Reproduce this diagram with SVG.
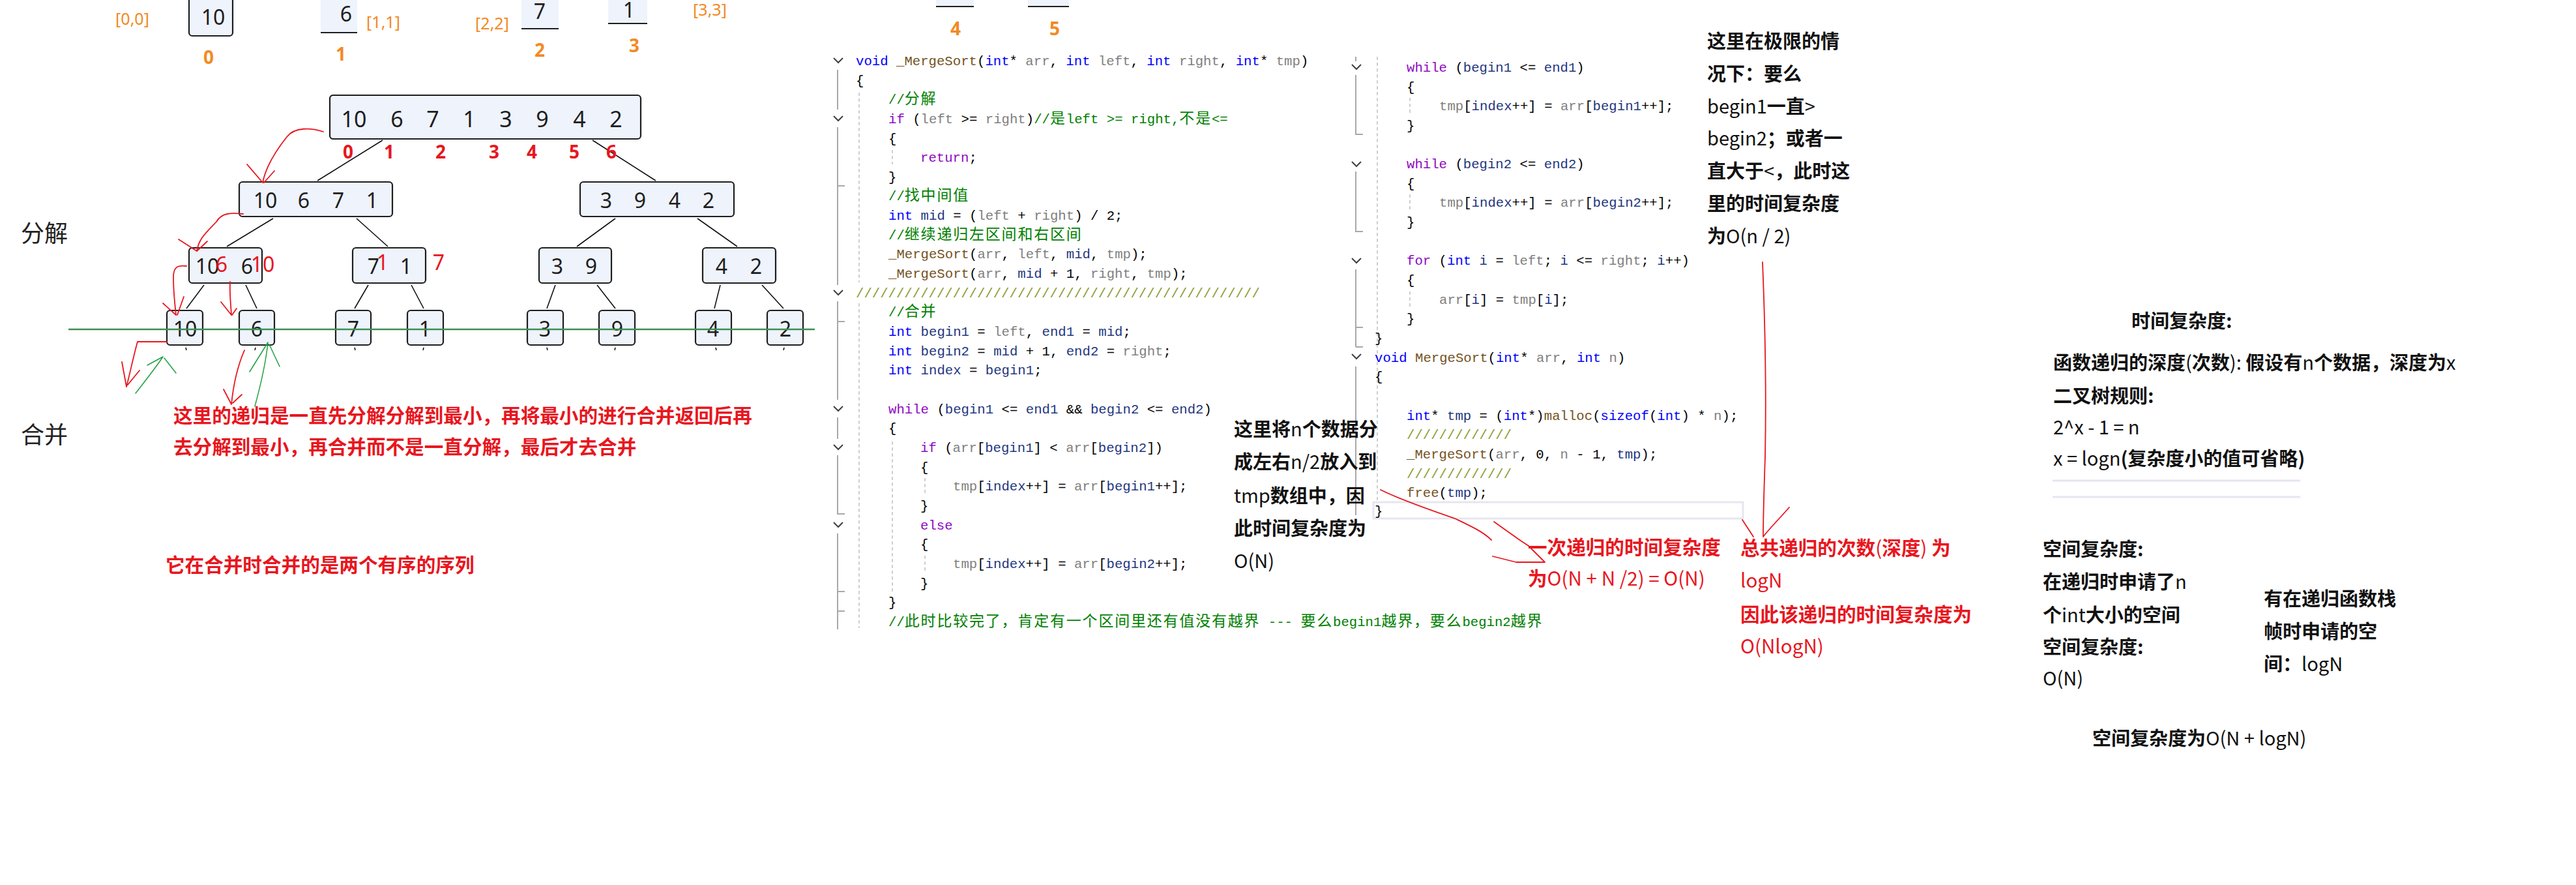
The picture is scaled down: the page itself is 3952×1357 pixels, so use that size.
<svg xmlns="http://www.w3.org/2000/svg" width="3952" height="1357" viewBox="0 0 3952 1357">
<style>
.box{fill:#eef3fc;stroke:#1e1e1e;stroke-width:2.2}
.fillonly{fill:#eef3fc}
.bline{stroke:#1e1e1e;stroke-width:2.2}
.edge{stroke:#111;stroke-width:1.6;fill:none}
.num{font-family:"Noto Sans","DejaVu Sans",sans-serif;fill:#1e1e1e;text-anchor:middle}
.n34{font-size:34px}
.n32{font-size:32px}
.org{font-family:"Noto Sans","DejaVu Sans",sans-serif;fill:#f28a24;text-anchor:middle}
.ob{font-size:28px;font-weight:700}
.obr{font-size:25px}
.rnum{font-family:"Noto Sans","DejaVu Sans",sans-serif;fill:#e8161e;font-size:28px;font-weight:700;text-anchor:middle}
.rd{fill:#e8161e}
.cn{font-family:"Noto Sans CJK SC","Noto Sans",sans-serif;font-size:29px;font-weight:700;fill:#111}
.cnr{font-family:"Noto Sans CJK SC","Noto Sans",sans-serif;font-size:29.6px;font-weight:700;fill:#e8161e}
.lbl{font-family:"Noto Sans CJK SC",sans-serif;font-size:36px;fill:#222}
.lt{font-weight:400}
.code{font-family:"Liberation Mono","DejaVu Sans Mono",monospace;font-size:20.67px;fill:#000}
.z{font-family:"Noto Sans CJK SC",sans-serif;font-size:23px;letter-spacing:1.8px}
.k{fill:#0000ff}.c{fill:#8f08c4}.f{fill:#74531f}.p{fill:#808080}.v{fill:#1f377f}.g{fill:#008000}.s{fill:#8a9a30}
.hr{fill:none;stroke:#e8161e;stroke-width:1.8;stroke-linecap:round;stroke-linejoin:round}
.hg{fill:none;stroke:#20a040;stroke-width:1.5;stroke-linecap:round}
.gut{fill:none;stroke:#a8a8a8;stroke-width:2}
.dash{fill:none;stroke:#cfcfcf;stroke-width:2;stroke-dasharray:5 4}
.chev{fill:none;stroke:#404040;stroke-width:2}
.hl{fill:none;stroke:#e6e6f0;stroke-width:3}
</style>

<!-- top partial boxes -->
<g id="top-boxes">
<rect class="box" x="290" y="-12" width="67" height="67" rx="5"/>
<text class="num n32" x="327" y="38">10</text>
<rect class="fillonly" x="492" y="-5" width="56" height="55"/><line class="bline" x1="492" y1="50" x2="548" y2="50"/>
<text class="num n32" x="531" y="33">6</text>
<rect class="fillonly" x="800" y="-5" width="57" height="49"/><line class="bline" x1="800" y1="44" x2="857" y2="44"/>
<text class="num n32" x="828" y="29">7</text>
<rect class="fillonly" x="933" y="-5" width="60" height="41"/><line class="bline" x1="933" y1="36" x2="993" y2="36"/>
<text class="num n32" x="965" y="27">1</text>
<rect class="fillonly" x="1436" y="-5" width="58" height="15"/><line class="bline" x1="1436" y1="10" x2="1494" y2="10"/>
<rect class="fillonly" x="1577" y="-5" width="63" height="15"/><line class="bline" x1="1577" y1="10" x2="1640" y2="10"/>
</g>
<g id="top-labels">
<text class="org obr" x="203" y="38">[0,0]</text>
<text class="org obr" x="588" y="43">[1,1]</text>
<text class="org obr" x="755" y="45">[2,2]</text>
<text class="org obr" x="1089" y="24">[3,3]</text>
<text class="org ob" x="320" y="98">0</text>
<text class="org ob" x="523" y="93">1</text>
<text class="org ob" x="828" y="87">2</text>
<text class="org ob" x="973" y="80">3</text>
<text class="org ob" x="1466" y="54">4</text>
<text class="org ob" x="1618" y="54">5</text>
</g>

<!-- connectors -->
<g id="connectors">
<line class="edge" x1="587" y1="215" x2="487" y2="277"/>
<line class="edge" x1="909" y1="215" x2="1006" y2="277"/>
<line class="edge" x1="419" y1="335" x2="348" y2="378"/>
<line class="edge" x1="547" y1="335" x2="595" y2="378"/>
<line class="edge" x1="944" y1="335" x2="885" y2="378"/>
<line class="edge" x1="1070" y1="335" x2="1131" y2="378"/>
<line class="edge" x1="313" y1="437" x2="286" y2="473"/>
<line class="edge" x1="377" y1="437" x2="394" y2="473"/>
<line class="edge" x1="565" y1="437" x2="544" y2="473"/>
<line class="edge" x1="631" y1="437" x2="650" y2="473"/>
<line class="edge" x1="852" y1="437" x2="839" y2="473"/>
<line class="edge" x1="916" y1="437" x2="944" y2="473"/>
<line class="edge" x1="1105" y1="437" x2="1096" y2="473"/>
<line class="edge" x1="1169" y1="437" x2="1202" y2="473"/>
<line class="edge" x1="285" y1="533" x2="286" y2="537"/>
<line class="edge" x1="392" y1="533" x2="391" y2="537"/>
<line class="edge" x1="544" y1="533" x2="545" y2="537"/>
<line class="edge" x1="650" y1="533" x2="649" y2="537"/>
<line class="edge" x1="839" y1="533" x2="840" y2="537"/>
<line class="edge" x1="944" y1="533" x2="943" y2="537"/>
<line class="edge" x1="1098" y1="533" x2="1099" y2="537"/>
<line class="edge" x1="1203" y1="533" x2="1202" y2="537"/>
</g>

<g id="root">
<rect class="box" x="506" y="146" width="477" height="67" rx="5"/>
<text class="num n34" y="195"><tspan x="543">10</tspan><tspan x="609">6</tspan><tspan x="664">7</tspan><tspan x="720">1</tspan><tspan x="776">3</tspan><tspan x="832">9</tspan><tspan x="889">4</tspan><tspan x="945">2</tspan></text>
</g>
<g id="root-index">
<text class="rnum" y="243"><tspan x="534">0</tspan><tspan x="597">1</tspan><tspan x="676">2</tspan><tspan x="758">3</tspan><tspan x="816">4</tspan><tspan x="881">5</tspan><tspan x="938">6</tspan></text>
</g>
<g id="n-10-6-7-1">
<rect class="box" x="367" y="279" width="235" height="53" rx="5"/>
<text class="num n32" y="319"><tspan x="407">10</tspan><tspan x="466">6</tspan><tspan x="519">7</tspan><tspan x="571">1</tspan></text>
</g>
<g id="n-3-9-4-2">
<rect class="box" x="890" y="279" width="236" height="53" rx="5"/>
<text class="num n32" y="319"><tspan x="930">3</tspan><tspan x="982">9</tspan><tspan x="1035">4</tspan><tspan x="1087">2</tspan></text>
</g>
<g id="n-10-6">
<rect class="box" x="290" y="380" width="112" height="54" rx="5"/>
<text class="num n32" y="420"><tspan x="318">10</tspan><tspan x="379">6</tspan></text>
<text class="num n32 rd" y="417"><tspan x="340">6</tspan><tspan x="403">10</tspan></text>
</g>
<g id="n-7-1">
<rect class="box" x="541" y="380" width="112" height="54" rx="5"/>
<text class="num n32" y="420"><tspan x="573">7</tspan><tspan x="623">1</tspan></text>
<text class="num n32 rd" y="414"><tspan x="587">1</tspan><tspan x="673">7</tspan></text>
</g>
<g id="n-3-9">
<rect class="box" x="827" y="380" width="111" height="54" rx="5"/>
<text class="num n32" y="420"><tspan x="855">3</tspan><tspan x="907">9</tspan></text>
</g>
<g id="n-4-2">
<rect class="box" x="1078" y="380" width="112" height="54" rx="5"/>
<text class="num n32" y="420"><tspan x="1107">4</tspan><tspan x="1160">2</tspan></text>
</g>
<g id="leaf-10"><rect class="box" x="256" y="476" width="55" height="53" rx="5"/><text class="num n32" x="284" y="516">10</text></g>
<g id="leaf-6"><rect class="box" x="367" y="476" width="54" height="53" rx="5"/><text class="num n32" x="394" y="516">6</text></g>
<g id="leaf-7"><rect class="box" x="515" y="476" width="54" height="53" rx="5"/><text class="num n32" x="542" y="516">7</text></g>
<g id="leaf-1"><rect class="box" x="625" y="476" width="55" height="53" rx="5"/><text class="num n32" x="652" y="516">1</text></g>
<g id="leaf-3"><rect class="box" x="809" y="476" width="55" height="53" rx="5"/><text class="num n32" x="836" y="516">3</text></g>
<g id="leaf-9"><rect class="box" x="919" y="476" width="55" height="53" rx="5"/><text class="num n32" x="947" y="516">9</text></g>
<g id="leaf-4"><rect class="box" x="1067" y="476" width="55" height="53" rx="5"/><text class="num n32" x="1094" y="516">4</text></g>
<g id="leaf-2"><rect class="box" x="1177" y="476" width="55" height="53" rx="5"/><text class="num n32" x="1205" y="516">2</text></g>

<line x1="105" y1="505" x2="1250" y2="505" stroke="#3e8e55" stroke-width="2.5"/>

<g id="hand-strokes">
<path class="hr" d="M496,202 C478,196 452,194 440,210 C424,230 408,255 403,280 M379,252 L403,280 M421,262 L405,280"/>
<path class="hr" d="M373,328 C355,326 340,326 332,340 C318,355 305,365 302,385 M274,367 L302,385 M318,370 L302,385"/>
<path class="hr" d="M286,408 C272,406 266,410 266,425 C266,445 268,465 270,483 M250,465 L270,483 M282,455 L272,483"/>
<path class="hr" d="M353,432 C352,450 354,465 355,483 M339,463 L355,483 M363,473 L356,483"/>
<path class="hr" d="M256,524 L211,524 C205,545 200,570 194,593 M187,555 L194,593 M214,568 L196,590"/>
<path class="hr" d="M375,537 C365,560 358,590 355,620 M343,597 L355,620 M371,605 L357,618"/>
<path class="hg" d="M208,603 C222,585 238,565 250,547 M226,560 L250,547 M270,572 L252,549"/>
<path class="hg" d="M391,623 C400,590 408,555 411,525 M383,570 L411,525 M429,562 L413,528"/>
</g>

<text class="lbl" x="32" y="371">分解</text>
<text class="lbl" x="32" y="680">合并</text>
<text class="cnr" x="266" y="648">这里的递归是一直先分解分解到最小，再将最小的进行合并返回后再</text>
<text class="cnr" x="266" y="696">去分解到最小，再合并而不是一直分解，最后才去合并</text>
<text class="cnr" x="254" y="877">它在合并时合并的是两个有序的序列</text>

<!-- left code panel -->
<g id="code-left-gutter">
<polyline class="chev" points="1279,89 1286,96 1293,89"/>
<polyline class="chev" points="1279,178 1286,185 1293,178"/>
<polyline class="chev" points="1279,445 1286,452 1293,445"/>
<polyline class="chev" points="1279,623 1286,630 1293,623"/>
<polyline class="chev" points="1279,682 1286,689 1293,682"/>
<polyline class="chev" points="1279,801 1286,808 1293,801"/>
<path class="gut" d="M1285,107 V168 M1285,195 V437 M1285,285 H1296 M1285,462 V613 M1285,493 H1296 M1285,640 V673 M1285,698 V788 H1296 M1285,818 V965 M1285,907 H1296 M1285,937 H1296"/>
<path class="dash" d="M1318,142 V433 M1318,465 V963 M1369,230 V252 M1369,677 V907 M1419,733 V757 M1419,852 V877"/>
</g>
<g id="code-left" class="code" xml:space="preserve">
<text x="1313" y="100"><tspan class="k">void</tspan> <tspan class="f">_MergeSort</tspan>(<tspan class="k">int</tspan>* <tspan class="p">arr</tspan>, <tspan class="k">int</tspan> <tspan class="p">left</tspan>, <tspan class="k">int</tspan> <tspan class="p">right</tspan>, <tspan class="k">int</tspan>* <tspan class="p">tmp</tspan>)</text>
<text x="1313" y="130">{</text>
<text x="1363" y="159"><tspan class="g">//<tspan class="z">分解</tspan></tspan></text>
<text x="1363" y="189"><tspan class="c">if</tspan> (<tspan class="p">left</tspan> &gt;= <tspan class="p">right</tspan>)<tspan class="g">//<tspan class="z">是</tspan>left &gt;= right,<tspan class="z">不是</tspan>&lt;=</tspan></text>
<text x="1363" y="219">{</text>
<text x="1412" y="248"><tspan class="c">return</tspan>;</text>
<text x="1363" y="278">}</text>
<text x="1363" y="307"><tspan class="g">//<tspan class="z">找中间值</tspan></tspan></text>
<text x="1363" y="337"><tspan class="k">int</tspan> <tspan class="v">mid</tspan> = (<tspan class="p">left</tspan> + <tspan class="p">right</tspan>) / 2;</text>
<text x="1363" y="367"><tspan class="g">//<tspan class="z">继续递归左区间和右区间</tspan></tspan></text>
<text x="1363" y="396"><tspan class="f">_MergeSort</tspan>(<tspan class="p">arr</tspan>, <tspan class="p">left</tspan>, <tspan class="v">mid</tspan>, <tspan class="p">tmp</tspan>);</text>
<text x="1363" y="426"><tspan class="f">_MergeSort</tspan>(<tspan class="p">arr</tspan>, <tspan class="v">mid</tspan> + 1, <tspan class="p">right</tspan>, <tspan class="p">tmp</tspan>);</text>
<text x="1313" y="456" class="s">//////////////////////////////////////////////////</text>
<text x="1363" y="485"><tspan class="g">//<tspan class="z">合并</tspan></tspan></text>
<text x="1363" y="515"><tspan class="k">int</tspan> <tspan class="v">begin1</tspan> = <tspan class="p">left</tspan>, <tspan class="v">end1</tspan> = <tspan class="v">mid</tspan>;</text>
<text x="1363" y="545"><tspan class="k">int</tspan> <tspan class="v">begin2</tspan> = <tspan class="v">mid</tspan> + 1,  <tspan class="v">end2</tspan> = <tspan class="p">right</tspan>;</text>
<text x="1363" y="574"><tspan class="k">int</tspan> <tspan class="v">index</tspan> = <tspan class="v">begin1</tspan>;</text>
<text x="1363" y="634"><tspan class="c">while</tspan> (<tspan class="v">begin1</tspan> &lt;= <tspan class="v">end1</tspan> &amp;&amp; <tspan class="v">begin2</tspan> &lt;= <tspan class="v">end2</tspan>)</text>
<text x="1363" y="663">{</text>
<text x="1412" y="693"><tspan class="c">if</tspan> (<tspan class="p">arr</tspan>[<tspan class="v">begin1</tspan>] &lt; <tspan class="p">arr</tspan>[<tspan class="v">begin2</tspan>])</text>
<text x="1412" y="723">{</text>
<text x="1462" y="752"><tspan class="p">tmp</tspan>[<tspan class="v">index</tspan>++] = <tspan class="p">arr</tspan>[<tspan class="v">begin1</tspan>++];</text>
<text x="1412" y="782">}</text>
<text x="1412" y="812"><tspan class="c">else</tspan></text>
<text x="1412" y="841">{</text>
<text x="1462" y="871"><tspan class="p">tmp</tspan>[<tspan class="v">index</tspan>++] = <tspan class="p">arr</tspan>[<tspan class="v">begin2</tspan>++];</text>
<text x="1412" y="901">}</text>
<text x="1363" y="930">}</text>
<text x="1363" y="960"><tspan class="g">//<tspan class="z">此时比较完了，肯定有一个区间里还有值没有越界</tspan>  --- <tspan class="z">要么</tspan>begin1<tspan class="z">越界，要么</tspan>begin2<tspan class="z">越界</tspan></tspan></text>
</g>

<!-- right code panel -->
<g id="code-right-gutter">
<polyline class="chev" points="2074,99 2081,106 2088,99"/>
<polyline class="chev" points="2074,248 2081,255 2088,248"/>
<polyline class="chev" points="2074,396 2081,403 2088,396"/>
<polyline class="chev" points="2074,543 2081,550 2088,543"/>
<path class="gut" d="M2080,87 V94 M2080,115 V206 H2091 M2080,263 V355 H2091 M2080,413 V532 M2080,502 H2091 M2080,532 H2091 M2080,562 V790"/>
<path class="dash" d="M2113,87 V767 M2163,150 V175 M2163,298 V322 M2163,447 V470"/>
<rect class="hl" x="2107" y="770" width="567" height="25"/>
</g>
<g id="code-right" class="code" xml:space="preserve">
<text x="2158" y="110"><tspan class="c">while</tspan> (<tspan class="v">begin1</tspan> &lt;= <tspan class="v">end1</tspan>)</text>
<text x="2158" y="140">{</text>
<text x="2208" y="169"><tspan class="p">tmp</tspan>[<tspan class="v">index</tspan>++] = <tspan class="p">arr</tspan>[<tspan class="v">begin1</tspan>++];</text>
<text x="2158" y="199">}</text>
<text x="2158" y="258"><tspan class="c">while</tspan> (<tspan class="v">begin2</tspan> &lt;= <tspan class="v">end2</tspan>)</text>
<text x="2158" y="288">{</text>
<text x="2208" y="317"><tspan class="p">tmp</tspan>[<tspan class="v">index</tspan>++] = <tspan class="p">arr</tspan>[<tspan class="v">begin2</tspan>++];</text>
<text x="2158" y="347">}</text>
<text x="2158" y="406"><tspan class="c">for</tspan> (<tspan class="k">int</tspan> <tspan class="v">i</tspan> = <tspan class="p">left</tspan>; <tspan class="v">i</tspan> &lt;= <tspan class="p">right</tspan>; <tspan class="v">i</tspan>++)</text>
<text x="2158" y="436">{</text>
<text x="2208" y="466"><tspan class="p">arr</tspan>[<tspan class="v">i</tspan>] = <tspan class="p">tmp</tspan>[<tspan class="v">i</tspan>];</text>
<text x="2158" y="495">}</text>
<text x="2109" y="525">}</text>
<text x="2109" y="555"><tspan class="k">void</tspan> <tspan class="f">MergeSort</tspan>(<tspan class="k">int</tspan>* <tspan class="p">arr</tspan>, <tspan class="k">int</tspan> <tspan class="p">n</tspan>)</text>
<text x="2109" y="584">{</text>
<text x="2158" y="644"><tspan class="k">int</tspan>* <tspan class="v">tmp</tspan> = (<tspan class="k">int</tspan>*)<tspan class="f">malloc</tspan>(<tspan class="k">sizeof</tspan>(<tspan class="k">int</tspan>) * <tspan class="p">n</tspan>);</text>
<text x="2158" y="673" class="s">/////////////</text>
<text x="2158" y="703"><tspan class="f">_MergeSort</tspan>(<tspan class="p">arr</tspan>, 0, <tspan class="p">n</tspan> - 1, <tspan class="v">tmp</tspan>);</text>
<text x="2158" y="733" class="s">/////////////</text>
<text x="2158" y="762"><tspan class="f">free</tspan>(<tspan class="v">tmp</tspan>);</text>
<text x="2109" y="790">}</text>
</g>

<!-- annotations -->
<g id="note-split" class="cn">
<text x="1893" y="669">这里将<tspan class="lt">n</tspan>个数据分</text>
<text x="1893" y="719">成左右<tspan class="lt">n/2</tspan>放入到</text>
<text x="1893" y="771"><tspan class="lt">tmp</tspan>数组中，因</text>
<text x="1893" y="821">此时间复杂度为</text>
<text x="1893" y="871"><tspan class="lt">O(N)</tspan></text>
</g>
<g id="note-extreme" class="cn">
<text x="2619" y="74">这里在极限的情</text>
<text x="2619" y="124">况下：要么</text>
<text x="2619" y="174"><tspan class="lt">begin1</tspan>一直<tspan class="lt">&gt;</tspan></text>
<text x="2619" y="223"><tspan class="lt">begin2</tspan>；或者一</text>
<text x="2619" y="273">直大于<tspan class="lt">&lt;</tspan>，此时这</text>
<text x="2619" y="323">里的时间复杂度</text>
<text x="2619" y="373">为<tspan class="lt">O(n / 2)</tspan></text>
</g>
<g id="note-once" class="cnr">
<text x="2344" y="850">一次递归的时间复杂度</text>
<text x="2344" y="898">为<tspan class="lt">O(N + N /2) = O(N)</tspan></text>
</g>
<g id="note-total" class="cnr">
<text x="2670" y="851">总共递归的次数<tspan class="lt">(</tspan>深度<tspan class="lt">)</tspan> 为</text>
<text x="2670" y="901"><tspan class="lt">logN</tspan></text>
<text x="2670" y="953">因此该递归的时间复杂度为</text>
<text x="2670" y="1002"><tspan class="lt">O(NlogN)</tspan></text>
</g>
<g id="annot-strokes">
<path class="hr" d="M2118,751 C2150,767 2200,784 2232,795 C2255,806 2275,815 2288,828"/>
<path class="hr" d="M2292,800 L2330,827 L2345,837 L2370,862 L2326,862 L2290,853"/>
<path class="hr" d="M2704,402 C2708,500 2710,600 2708,700 C2706,760 2705,800 2705,823 M2673,797 L2690,823 M2745,778 C2730,795 2715,810 2705,823"/>
</g>

<g id="time-complexity" class="cn">
<text x="3270" y="503">时间复杂度:</text>
<text x="3150" y="567">函数递归的深度<tspan class="lt">(</tspan>次数<tspan class="lt">):</tspan> 假设有<tspan class="lt">n</tspan>个数据，深度为<tspan class="lt">x</tspan></text>
<text x="3150" y="618">二叉树规则:</text>
<text x="3150" y="666"><tspan class="lt">2^x - 1 = n</tspan></text>
<text x="3150" y="714"><tspan class="lt">x = logn</tspan>(复杂度小的值可省略)</text>
<line class="hl" x1="3149" y1="737" x2="3529" y2="737"/>
<line class="hl" x1="3149" y1="762" x2="3529" y2="762"/>
</g>
<g id="space-complexity" class="cn">
<text x="3134" y="853">空间复杂度:</text>
<text x="3134" y="903">在递归时申请了<tspan class="lt">n</tspan></text>
<text x="3134" y="954">个<tspan class="lt">int</tspan>大小的空间</text>
<text x="3134" y="1003">空间复杂度:</text>
<text x="3134" y="1051"><tspan class="lt">O(N)</tspan></text>
<text x="3473" y="929">有在递归函数栈</text>
<text x="3473" y="979">帧时申请的空</text>
<text x="3473" y="1029">间：<tspan class="lt">logN</tspan></text>
<text x="3210" y="1143">空间复杂度为<tspan class="lt">O(N + logN)</tspan></text>
</g>
</svg>
